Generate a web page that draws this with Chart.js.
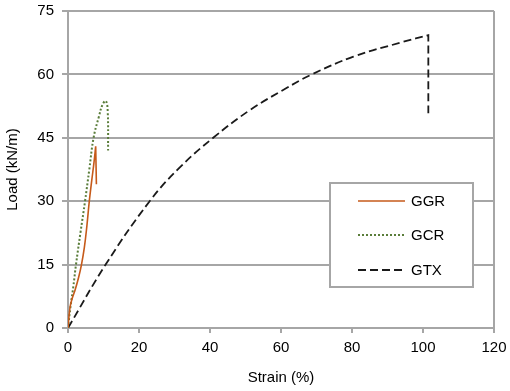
<!DOCTYPE html>
<html>
<head>
<meta charset="utf-8">
<script src="https://cdn.jsdelivr.net/npm/chart.js@4/dist/chart.umd.min.js"></script>
<style>
  html, body { margin: 0; padding: 0; background: #fff; }
  #wrap { position: relative; width: 510px; height: 391px; }
</style>
</head>
<body>
<div id="wrap"><canvas id="chart" width="510" height="391"></canvas></div>
<script>
// values (strain %, load kN/m)
// the peak before a sudden drop is listed twice so the curve keeps a sharp corner there
const ggrStrain = [0, 0.5, 1, 2, 3, 3.8, 4.6, 5.3, 6, 6.7, 7.3, 7.8, 7.8, 8];
const ggrLoad = [0, 4.5, 6.5, 9, 12, 15, 19, 24, 30, 35, 39, 43, 43, 34];
const gcrStrain = [0, 0.7, 1.5, 2.25, 3.5, 4.8, 6, 7.2, 8.7, 9.8, 10.7, 11.2, 11.3];
const gcrLoad = [0, 5, 9.8, 15, 22.5, 30, 37.5, 45, 50, 53, 53.7, 51, 42];
const gtxStrain = [0, 10.6, 23, 31.5, 40.9, 51.3, 60.6, 68.2, 80.4, 94.4, 101.5, 101.5, 101.5];
const gtxLoad = [0, 15, 30, 38, 45, 51.6, 56.3, 59.8, 64.2, 67.7, 69.3, 69.3, 50];
const seriesNames = ['GGR', 'GCR', 'GTX'];
const xTicks = [0, 20, 40, 60, 80, 100, 120];
const yTicks = [0, 15, 30, 45, 60, 75];

const toPoints = (xs, ys) => xs.map((x, i) => ({ x, y: ys[i] }));
const font = { family: 'Liberation Sans, Arial, sans-serif', size: 15 };
const gridGrey = '#a6a6a6';

// legend box inside the plot, like the spreadsheet original
const boxLegend = {
  id: 'boxLegend',
  afterDraw(chart) {
    const { ctx } = chart;
    const left = 330, top = 183, right = 473, bottom = 287;
    ctx.save();
    ctx.fillStyle = '#fff';
    ctx.fillRect(left, top, right - left, bottom - top);
    ctx.strokeStyle = gridGrey;
    ctx.lineWidth = 2;
    ctx.strokeRect(left, top, right - left, bottom - top);
    const rows = [201, 235, 270];
    chart.data.datasets.forEach((ds, i) => {
      ctx.beginPath();
      ctx.strokeStyle = ds.borderColor;
      ctx.lineWidth = ds.borderWidth;
      ctx.setLineDash(ds.borderDash || []);
      ctx.moveTo(358, rows[i]);
      ctx.lineTo(405, rows[i]);
      ctx.stroke();
      ctx.setLineDash([]);
      ctx.fillStyle = '#000';
      ctx.font = `${font.size}px ${font.family}`;
      ctx.textBaseline = 'middle';
      ctx.fillText(ds.label, 411, rows[i] + 1);
    });
    ctx.restore();
  },
};

new Chart(document.getElementById('chart'), {
  type: 'scatter',
  data: {
    datasets: [
      { label: seriesNames[0], data: toPoints(ggrStrain, ggrLoad), borderColor: '#c65a1a', borderWidth: 1.6 },
      { label: seriesNames[1], data: toPoints(gcrStrain, gcrLoad), borderColor: '#5a7d3a', borderWidth: 2, borderDash: [2, 2] },
      { label: seriesNames[2], data: toPoints(gtxStrain, gtxLoad), borderColor: '#1a1a1a', borderWidth: 1.8, borderDash: [8, 4] },
    ].map((ds) => ({ ...ds, showLine: true, tension: 0.4, pointRadius: 0, pointHoverRadius: 0, fill: false })),
  },
  options: {
    responsive: false,
    animation: false,
    layout: { padding: { top: 11, right: 16, left: 0, bottom: 0 } },
    plugins: { legend: { display: false }, tooltip: { enabled: false } },
    scales: {
      x: {
        type: 'linear', min: 0, max: 120,
        afterBuildTicks: (scale) => { scale.ticks = xTicks.map((value) => ({ value })); },
        afterFit: (scale) => { scale.height = 63; scale.paddingLeft = 0; scale.paddingRight = 0; },
        ticks: { color: '#000', font, padding: 6 },
        grid: {
          color: (c) => (c.tick && c.tick.value === 120 ? gridGrey : 'transparent'),
          tickColor: gridGrey, tickLength: 5, lineWidth: 2,
        },
        border: { color: gridGrey, width: 2 },
        title: { display: true, text: 'Strain (%)', color: '#000', font, padding: { top: 4 } },
      },
      y: {
        type: 'linear', min: 0, max: 75,
        afterBuildTicks: (scale) => { scale.ticks = yTicks.map((value) => ({ value })); },
        afterFit: (scale) => { scale.width = 68; scale.paddingTop = 0; scale.paddingBottom = 0; },
        ticks: { color: '#000', font, padding: 8 },
        grid: { color: gridGrey, tickColor: gridGrey, tickLength: 6, lineWidth: 2 },
        border: { color: gridGrey, width: 2 },
        title: { display: true, text: 'Load (kN/m)', color: '#000', font, padding: { bottom: 2 } },
      },
    },
  },
  plugins: [boxLegend],
});
</script>
</body>
</html>
